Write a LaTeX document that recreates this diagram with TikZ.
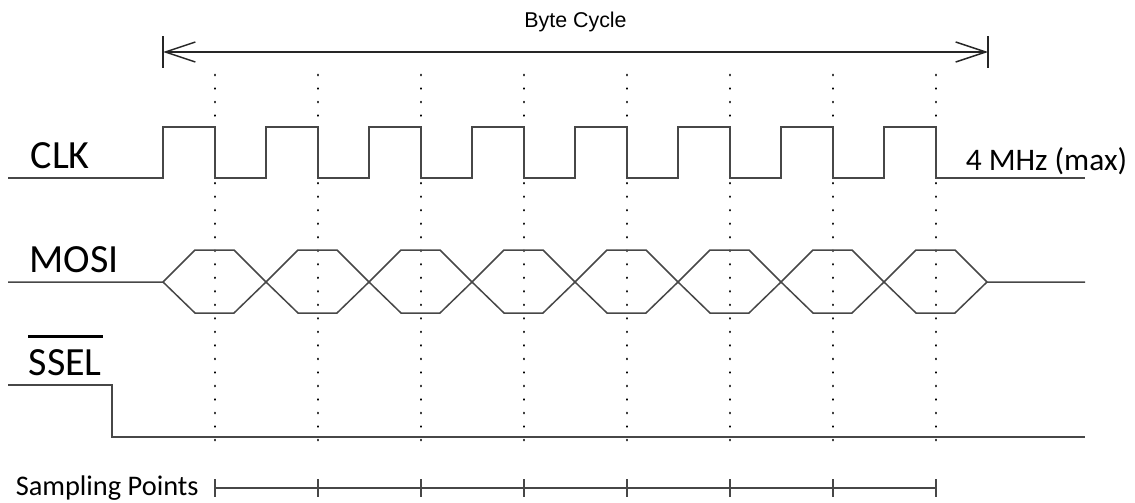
\documentclass[tikz,border=0pt]{standalone}
\usepackage{fontspec}
\setmainfont{Carlito}
\newfontfamily\arialfont{Liberation Sans}
\usetikzlibrary{arrows.meta}

\begin{document}
\begin{tikzpicture}[x=0.5pt, y=-0.5pt, line width=0.75pt,
  sig/.style={draw=black!72},
  sample/.style={line width=1.35pt, line cap=round, dash pattern=on 0.01pt off 6.75pt},
  lbl/.style={anchor=base west, inner sep=0pt, font=\fontsize{20}{24}\selectfont}]

  \useasboundingbox (0,0) rectangle (1135,503);

  % 时钟周期与起点
  \def\T{103}
  \def\xs{163}

  % Byte Cycle
  \coordinate (bl) at (\xs,52);
  \coordinate (br) at (988,52);
  \draw[black!85] (\xs,36) -- (\xs,68) (988,36) -- (988,68);
  \draw[black!85, {Straight Barb[length=15pt, width=10pt]}-{Straight Barb[length=15pt, width=10pt]}] (bl) -- (br);
  \node[anchor=base, inner sep=0pt, font=\arialfont\fontsize{10.7}{13}\selectfont] (cycle) at (575.5,27) {Byte Cycle};

  % 采样点虚线
  \foreach \k in {0,...,7}
    \draw[sample] ({\xs+52+\k*\T},75) -- ({\xs+52+\k*\T},453);

  % CLK
  \node[lbl] (clk) at (30,168) {CLK};
  \draw[sig] (8,178) \foreach \k in {0,...,7} {
      -- ({\xs+\k*\T},178) -- ({\xs+\k*\T},127) -- ({\xs+52+\k*\T},127) -- ({\xs+52+\k*\T},178)
    } -- (1085,178);
  \node[lbl, font=\fontsize{15.7}{19}\selectfont] (freq) at (965,170) {4 MHz (max)};

  % MOSI
  \node[lbl] (mosi) at (29,272) {MOSI};
  \draw[sig] (8,282) -- (\xs,282) \foreach \k in {0,...,7} {
      -- ({\xs+32+\k*\T},250) -- ({\xs+71+\k*\T},250) -- ({\xs+(\k+1)*\T},282)
    } -- (1085,282);
  \draw[sig] (\xs,282) \foreach \k in {0,...,7} {
      -- ({\xs+32+\k*\T},313) -- ({\xs+71+\k*\T},313) -- ({\xs+(\k+1)*\T},282)
    };

  % SSEL
  \node[lbl] (ssel) at (28,375) {SSEL};
  \draw[line width=1.5pt] ([yshift=6pt]ssel.north west) -- ([yshift=6pt]ssel.north east);
  \draw[sig] (8,385) -- (112,385) -- (112,437) -- (1085,437);

  % Sampling Points
  \node[lbl, font=\fontsize{14.2}{17}\selectfont] (samp) at (15,495) {Sampling Points};
  \draw[sig] ({\xs+52},488) -- ({\xs+52+7*\T},488);
  \foreach \k in {0,...,7}
    \draw[sig] ({\xs+52+\k*\T},479) -- ({\xs+52+\k*\T},497);

\end{tikzpicture}
\end{document}
